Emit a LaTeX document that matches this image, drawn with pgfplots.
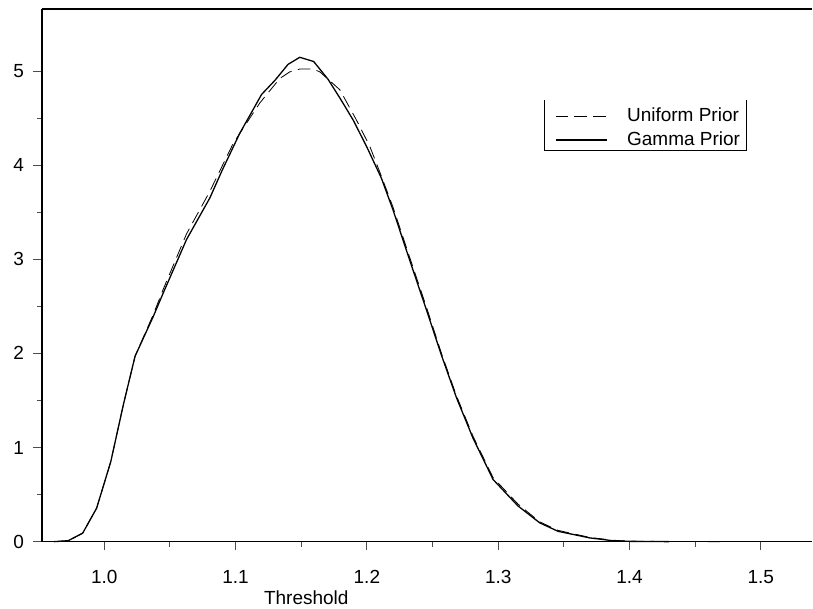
\documentclass[border=0pt]{standalone}
\usepackage{fontspec}
\setmainfont{Liberation Sans}
\usepackage{pgfplots}
\pgfplotsset{compat=1.18}
\newcommand{\lbl}{\fontsize{19bp}{22bp}\selectfont}
\begin{document}
\begin{tikzpicture}
\begin{axis}[
  scale only axis,
  width=771bp, height=533bp,
  xmin=0.9526, xmax=1.5393,
  ymin=0, ymax=5.658,
  axis x line=box,
  axis y line*=left,
  axis line style={-, line width=1.1bp},
  y axis line style={-},
  xtick={1.0,1.1,1.2,1.3,1.4,1.5},
  ytick={0,1,2,3,4,5},
  minor x tick num=1,
  minor y tick num=1,
  xtick pos=lower, ytick pos=left,
  tick align=outside,
  major tick length=8.5bp,
  minor tick length=5bp,
  tick style={line width=0.8bp, black!70},
  /pgf/number format/assume math mode=true,
  xticklabel style={font=\lbl, yshift=-17bp, /pgf/number format/.cd, fixed, fixed zerofill, precision=1},
  yticklabel style={font=\lbl, xshift=-6bp, /pgf/number format/.cd, fixed, precision=0},
  xlabel={Threshold},
  xlabel style={font=\lbl, at={(rel axis cs:0.343,0)}, anchor=center, yshift=-56bp},
  legend style={font=\lbl, draw=none, fill=none, inner sep=0pt,
    at={(rel axis cs:0.6654,0.8161)}, anchor=north west,
    row sep=6bp,
    nodes={inner sep=0pt, text height=14bp, text depth=4bp}},
  legend cell align=left,
  legend image code/.code={\draw[#1] (0bp,0bp) -- (52bp,0bp); \path (71bp,0bp);},
  clip=false,
]
\addplot[black, line width=0.8bp, dash pattern=on 12.5bp off 6.5bp] coordinates {
(0.962,0) (0.9726,0.01) (0.9836,0.09) (0.9942,0.355) (1.005,0.85) (1.0145,1.45)
(1.0235,1.97) (1.0373,2.41) (1.0449,2.68) (1.0627,3.27) (1.0804,3.72) (1.0982,4.23)
(1.1185,4.66) (1.1337,4.92) (1.1413,4.99) (1.1489,5.02) (1.1590,5.02) (1.1642,4.99)
(1.1794,4.80) (1.192,4.48) (1.2022,4.20) (1.2111,3.88) (1.2200,3.55) (1.2326,3.02)
(1.2454,2.49) (1.2568,2.00) (1.2682,1.55) (1.2808,1.12) (1.2961,0.68) (1.3150,0.40)
(1.3316,0.21) (1.3455,0.12) (1.3696,0.045) (1.387,0.015) (1.40,0.005) (1.43,0.001) (1.47,0)
};
\addlegendentry{Uniform Prior}
\addplot[black, line width=1.3bp] coordinates {
(0.962,0) (0.9726,0.01) (0.9836,0.09) (0.9942,0.355) (1.005,0.85) (1.0145,1.45)
(1.0235,1.97) (1.0373,2.39) (1.0449,2.64) (1.0627,3.21) (1.0804,3.65) (1.0900,3.95)
(1.1033,4.34) (1.1134,4.59) (1.1198,4.75) (1.1300,4.90) (1.1400,5.07) (1.1489,5.145)
(1.1595,5.10) (1.1705,4.91) (1.1800,4.70) (1.1895,4.48) (1.1997,4.20) (1.2111,3.86)
(1.2200,3.52) (1.2326,2.99) (1.2454,2.46) (1.2568,1.98) (1.2682,1.53) (1.2808,1.10)
(1.2961,0.66) (1.3150,0.38) (1.3316,0.20) (1.3455,0.11) (1.3696,0.04) (1.387,0.01)
(1.40,0.003) (1.43,0)
};
\addlegendentry{Gamma Prior}
\draw[line width=1.1bp] (rel axis cs:0.6524,0.8293) -- (rel axis cs:0.6524,0.7336)
  -- (rel axis cs:0.9144,0.7336) -- (rel axis cs:0.9144,0.8293);
\end{axis}
\path (current axis.south west) ++(-42bp,-67bp);
\path (current axis.north east) ++(0bp,9bp);
\end{tikzpicture}
\end{document}
